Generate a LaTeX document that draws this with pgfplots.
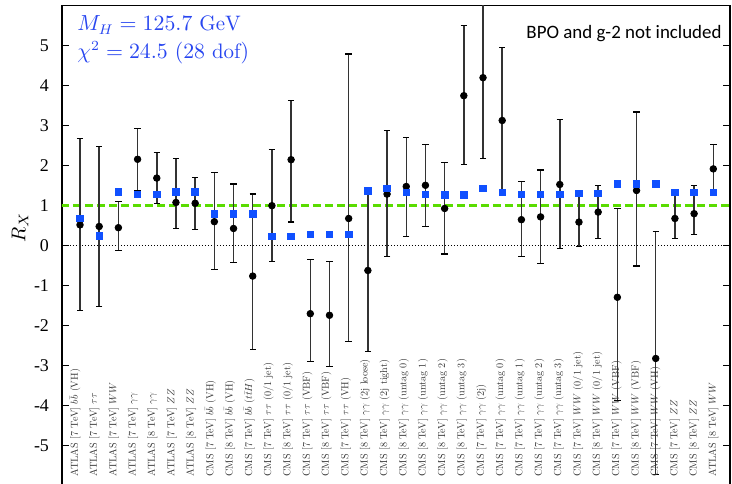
\documentclass[border=0pt]{standalone}
\usepackage{pgfplots}
\pgfplotsset{compat=1.18}
\usepackage{pgfplotstable}
\usepackage{graphicx}
\usepackage{fontspec}
\newfontfamily\tnr{Liberation Serif}
\newfontfamily\carlito{Carlito}
\definecolor{mblue}{RGB}{16,80,255}
\definecolor{tblue}{RGB}{40,70,240}
\definecolor{mgreen}{RGB}{90,220,0}
\newcommand\lab[1]{\scalebox{0.51}{\fontsize{10}{12}\selectfont #1}}

\pgfplotstableread{
x y lo hi
1 0.52 -1.62 2.68
2 0.48 -1.53 2.48
3 0.45 -0.13 1.10
4 2.16 1.38 2.92
5 1.69 1.06 2.33
6 1.08 0.42 2.18
7 1.06 0.41 1.71
8 0.60 -0.59 1.83
9 0.43 -0.42 1.54
10 -0.76 -2.60 1.29
11 1.00 -0.40 2.40
12 2.15 0.59 3.63
13 -1.70 -2.90 -0.35
14 -1.74 -3.02 -0.40
15 0.68 -2.40 4.79
16 -0.62 -2.65 1.36
17 1.29 -0.27 2.87
18 1.48 0.22 2.71
19 1.51 0.48 2.53
20 0.93 -0.21 2.08
21 3.75 2.02 5.50
22 4.20 2.18 6.50
23 3.13 1.33 4.96
24 0.65 -0.28 1.60
25 0.72 -0.45 1.89
26 1.53 -0.08 3.16
27 0.59 -0.02 1.23
28 0.84 0.18 1.50
29 -1.29 -3.87 0.93
30 1.38 -0.51 3.34
31 -2.82 -5.73 0.35
32 0.68 0.18 1.31
33 0.80 0.27 1.51
34 1.92 1.33 2.53
}\obs

\pgfplotstableread{
x y
1 0.68
2 0.24
3 1.34
4 1.28
5 1.28
6 1.34
7 1.34
8 0.79
9 0.79
10 0.79
11 0.23
12 0.23
13 0.28
14 0.28
15 0.28
16 1.37
17 1.43
18 1.33
19 1.28
20 1.27
21 1.27
22 1.43
23 1.33
24 1.28
25 1.28
26 1.28
27 1.31
28 1.31
29 1.55
30 1.55
31 1.55
32 1.33
33 1.33
34 1.33
}\fit

\begin{document}
\begin{tikzpicture}
\begin{axis}[
  name=ax,
  scale only axis,
  width=334bp, height=240bp,
  xmin=0.0615, xmax=34.87,
  ymin=-6, ymax=6,
  xtick=\empty,
  ytick={-5,-4,-3,-2,-1,0,1,2,3,4,5},
  yticklabels={-5,-4,-3,-2,-1,0,1,2,3,4,5},
  ytick pos=both,
  yticklabel pos=left,
  tick align=inside,
  major tick length=3.3bp,
  tick style={black, line width=0.5bp},
  axis line style={line width=0.6bp},
  yticklabel style={font=\tnr\fontsize{9}{10}\selectfont, xshift=-3bp},
  clip=true,
]
\addplot[black, line width=0.5bp, dash pattern=on 0.6bp off 0.9bp, forget plot] coordinates {(0,0) (35,0)};
\addplot[mgreen, line width=1.5bp, dash pattern=on 4bp off 2bp, forget plot] coordinates {(0,1) (35,1)};

\addplot[black, only marks, mark=*, mark size=1.65bp,
  error bars/.cd, y dir=both, y explicit,
  error bar style={line width=0.75bp, black!80},
  error mark options={rotate=90, mark size=1.6bp, line width=0.6bp, black}]
  table[x=x, y=y, y error plus expr=\thisrow{hi}-\thisrow{y}, y error minus expr=\thisrow{y}-\thisrow{lo}] {\obs};

\addplot[only marks, mark=square*, mark size=1.65bp, mblue, mark options={draw=mblue, fill=mblue}] table[x=x, y=y] {\fit};

\begin{scope}[every node/.style={rotate=90, anchor=west, inner sep=0pt, text=black!80}]
\node at (axis cs:0.74,-5.78) {\lab{ATLAS [7 TeV] $b\bar{b}$ (VH)}};
\node at (axis cs:1.75,-5.78) {\lab{ATLAS [7 TeV] $\tau\tau$}};
\node at (axis cs:2.76,-5.78) {\lab{ATLAS [7 TeV] $WW$}};
\node at (axis cs:3.76,-5.78) {\lab{ATLAS [7 TeV] $\gamma\gamma$}};
\node at (axis cs:4.77,-5.78) {\lab{ATLAS [8 TeV] $\gamma\gamma$}};
\node at (axis cs:5.78,-5.78) {\lab{ATLAS [7 TeV] $ZZ$}};
\node at (axis cs:6.79,-5.78) {\lab{ATLAS [8 TeV] $ZZ$}};
\node at (axis cs:7.80,-5.78) {\lab{CMS [7 TeV] $b\bar{b}$ (VH)}};
\node at (axis cs:8.80,-5.78) {\lab{CMS [8 TeV] $b\bar{b}$ (VH)}};
\node at (axis cs:9.81,-5.78) {\lab{CMS [7 TeV] $b\bar{b}$ ($t\bar{t}H$)}};
\node at (axis cs:10.82,-5.78) {\lab{CMS [7 TeV] $\tau\tau$ (0/1 jet)}};
\node at (axis cs:11.83,-5.78) {\lab{CMS [8 TeV] $\tau\tau$ (0/1 jet)}};
\node at (axis cs:12.84,-5.78) {\lab{CMS [7 TeV] $\tau\tau$ (VBF)}};
\node at (axis cs:13.84,-5.78) {\lab{CMS [8 TeV] $\tau\tau$ (VBF)}};
\node at (axis cs:14.85,-5.78) {\lab{CMS [7 TeV] $\tau\tau$ (VH)}};
\node at (axis cs:15.86,-5.78) {\lab{CMS [8 TeV] $\gamma\gamma$ (2j loose)}};
\node at (axis cs:16.87,-5.78) {\lab{CMS [8 TeV] $\gamma\gamma$ (2j tight)}};
\node at (axis cs:17.88,-5.78) {\lab{CMS [8 TeV] $\gamma\gamma$ (untag 0)}};
\node at (axis cs:18.88,-5.78) {\lab{CMS [8 TeV] $\gamma\gamma$ (untag 1)}};
\node at (axis cs:19.89,-5.78) {\lab{CMS [8 TeV] $\gamma\gamma$ (untag 2)}};
\node at (axis cs:20.90,-5.78) {\lab{CMS [8 TeV] $\gamma\gamma$ (untag 3)}};
\node at (axis cs:21.91,-5.78) {\lab{CMS [7 TeV] $\gamma\gamma$ (2j)}};
\node at (axis cs:22.92,-5.78) {\lab{CMS [7 TeV] $\gamma\gamma$ (untag 0)}};
\node at (axis cs:23.92,-5.78) {\lab{CMS [7 TeV] $\gamma\gamma$ (untag 1)}};
\node at (axis cs:24.93,-5.78) {\lab{CMS [7 TeV] $\gamma\gamma$ (untag 2)}};
\node at (axis cs:25.94,-5.78) {\lab{CMS [7 TeV] $\gamma\gamma$ (untag 3)}};
\node at (axis cs:26.95,-5.78) {\lab{CMS [7 TeV] $WW$ (0/1 jet)}};
\node at (axis cs:27.96,-5.78) {\lab{CMS [8 TeV] $WW$ (0/1 jet)}};
\node at (axis cs:28.96,-5.78) {\lab{CMS [7 TeV] $WW$ (VBF)}};
\node at (axis cs:29.97,-5.78) {\lab{CMS [8 TeV] $WW$ (VBF)}};
\node at (axis cs:30.98,-5.78) {\lab{CMS [7 TeV] $WW$ (VH)}};
\node at (axis cs:31.99,-5.78) {\lab{CMS [7 TeV] $ZZ$}};
\node at (axis cs:33.00,-5.78) {\lab{CMS [8 TeV] $ZZ$}};
\node at (axis cs:34.00,-5.78) {\lab{ATLAS [8 TeV] $WW$}};
\end{scope}
\end{axis}

\node[anchor=north west, inner sep=0pt, align=left, text=tblue, font=\fontsize{10.5}{14}\selectfont]
  at ([xshift=7.5bp, yshift=-5bp]ax.north west) {$M_H = 125.7~\mathrm{GeV}$\\ $\chi^2 = 24.5~(28~\mathrm{dof})$};
\node[anchor=north east, inner sep=0pt, font=\carlito\fontsize{9.5}{11}\selectfont]
  at ([xshift=-4bp, yshift=-9.5bp]ax.north east) {BPO and g-2 not included};
\node[rotate=90, font=\fontsize{10}{12}\selectfont] at ([xshift=-21bp, yshift=9bp]ax.west) {$R_X$};

\pgfresetboundingbox
\path ([xshift=-31bp, yshift=0.85bp]ax.south west) rectangle ([xshift=1bp, yshift=2.85bp]ax.north east);
\end{tikzpicture}
\end{document}
